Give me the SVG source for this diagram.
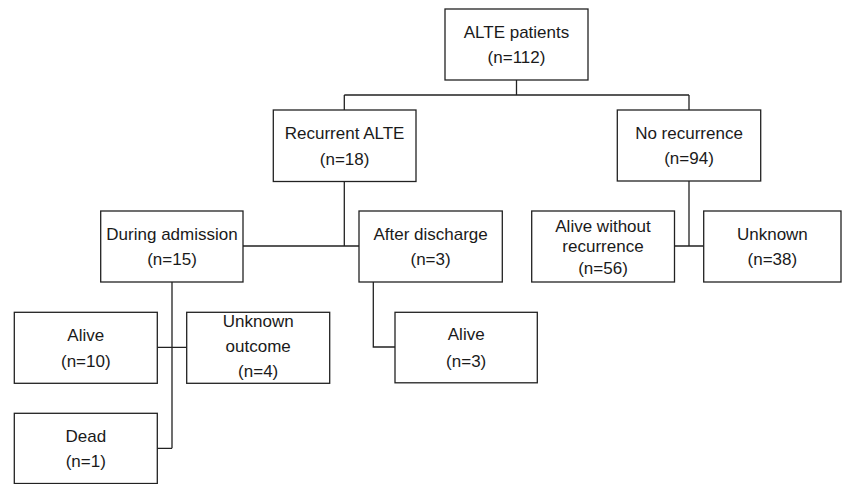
<svg xmlns="http://www.w3.org/2000/svg" width="845" height="484" viewBox="0 0 845 484">
<style>
.box{fill:#fff;stroke:#222;stroke-width:1.3}
.ln{fill:none;stroke:#222;stroke-width:1.3}
text{font-family:"Liberation Sans",Arial,sans-serif;font-size:17px;fill:#1a1a1a;text-anchor:middle}
</style>
<rect width="845" height="484" fill="#fff"/>
<g id="connectors">
<path class="ln" d="M516.5 80V95M344.3 95H689M344.3 95V110M689 95V110"/>
<path class="ln" d="M344.3 181.5V246M243 246H359"/>
<path class="ln" d="M689 181V246M674.5 246H703.7"/>
<path class="ln" d="M172 282V448.3M157.3 347.3H186.7M157.3 448.3H172"/>
<path class="ln" d="M373.3 282V347H395"/>
</g>
<g id="alte">
<rect class="box" x="445" y="9" width="143" height="71"/>
<text x="516.5" y="37.5">ALTE patients</text>
<text x="516.5" y="63">(n=112)</text>
</g>
<g id="recurrent">
<rect class="box" x="273.3" y="110" width="142.7" height="71.5"/>
<text x="344.6" y="139">Recurrent ALTE</text>
<text x="344.6" y="165">(n=18)</text>
</g>
<g id="norecurrence">
<rect class="box" x="617.3" y="110" width="143.4" height="71"/>
<text x="689" y="138.5">No recurrence</text>
<text x="689" y="164">(n=94)</text>
</g>
<g id="during">
<rect class="box" x="100.7" y="211" width="142.3" height="71"/>
<text x="172" y="240">During admission</text>
<text x="172" y="265">(n=15)</text>
</g>
<g id="after">
<rect class="box" x="359" y="211" width="143.3" height="71"/>
<text x="430.6" y="239.5">After discharge</text>
<text x="430.6" y="265">(n=3)</text>
</g>
<g id="alivewithout">
<rect class="box" x="531.7" y="211" width="142.8" height="71"/>
<text x="603" y="232.3">Alive without</text>
<text x="603" y="251.5">recurrence</text>
<text x="603" y="273.5">(n=56)</text>
</g>
<g id="unknown">
<rect class="box" x="703.7" y="211" width="137.3" height="71"/>
<text x="772.4" y="240">Unknown</text>
<text x="772.4" y="265">(n=38)</text>
</g>
<g id="alive10">
<rect class="box" x="14.3" y="312.3" width="143" height="71"/>
<text x="85.8" y="340.5">Alive</text>
<text x="85.8" y="366.5">(n=10)</text>
</g>
<g id="unknownoutcome">
<rect class="box" x="186.7" y="312.3" width="143" height="71"/>
<text x="258.2" y="327">Unknown</text>
<text x="258.2" y="352">outcome</text>
<text x="258.2" y="376.5">(n=4)</text>
</g>
<g id="alive3">
<rect class="box" x="395" y="312.3" width="142.3" height="70.5"/>
<text x="466.2" y="340">Alive</text>
<text x="466.2" y="366.5">(n=3)</text>
</g>
<g id="dead">
<rect class="box" x="14.3" y="413.3" width="143" height="70.2"/>
<text x="85.8" y="441.5">Dead</text>
<text x="85.8" y="467">(n=1)</text>
</g>
</svg>
